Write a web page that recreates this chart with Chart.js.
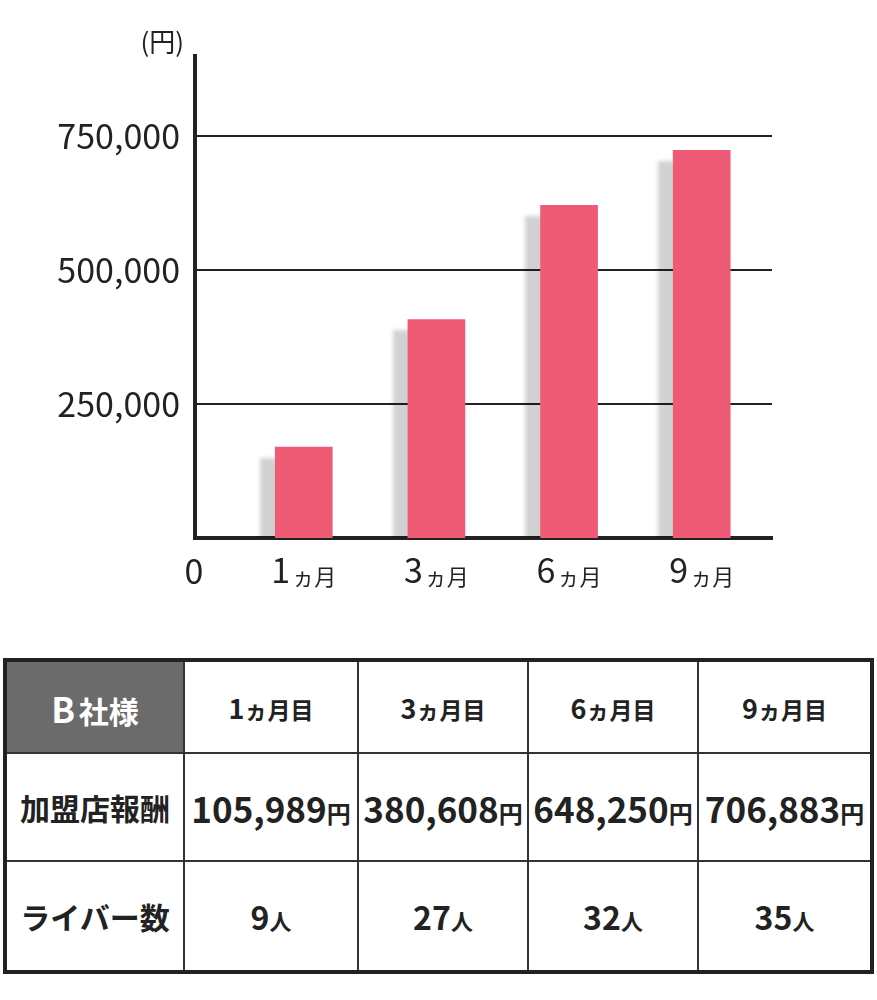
<!DOCTYPE html>
<html lang="ja">
<head>
<meta charset="utf-8">
<script src="https://cdn.jsdelivr.net/npm/chart.js@4.4.1/dist/chart.umd.min.js"></script>
<style>
  body { margin: 0; background: #fff; font-family: 'Noto Sans CJK JP', sans-serif; color: #222; }
  #wrap { position: relative; width: 877px; height: 1000px; }
  #chartBox { position: absolute; left: 0; top: 0; width: 877px; height: 620px; }
  table { position: absolute; left: 3px; top: 658px; width: 870px; border-collapse: collapse; table-layout: fixed; border: 4px solid #222; }
  td { border: 2px solid #333; text-align: center; vertical-align: middle; font-weight: bold; padding: 0; white-space: nowrap; color: #222; }
  td.corner { background: #6b6b6b; color: #fff; }
  .b30 { font-size: 35px; }
  .b28 { font-size: 30px; }
  .n27 { font-size: 27px; }
  .n35 { font-size: 35px; }
  .n32 { font-size: 32px; }
  .s23 { font-size: 23px; }
  .s22 { font-size: 22px; }
  .s24 { font-size: 24px; }
  .head { font-size: 30px; }
</style>
</head>
<body>
<div id="wrap">
  <div id="chartBox"><canvas id="chart"></canvas></div>
  <table id="tbl">
    <colgroup>
      <col style="width:179px"><col style="width:174px"><col style="width:170px"><col style="width:170px"><col style="width:174px">
    </colgroup>
    <tbody></tbody>
  </table>
</div>
<script>
// chart data
const monthNums = ['1', '3', '6', '9'];
const monthSuffix = 'ヵ月';
const barValues = [170000, 408000, 621000, 724000];
const yTicks = [250000, 500000, 750000];
const unitLabel = '(円)';

// table data
const companyName = ['B', '社様'];
const rowNames = ['加盟店報酬', 'ライバー数'];
const rewards = [105989, 380608, 648250, 706883];
const livers = [9, 27, 32, 35];

const fmt = v => v.toLocaleString('en-US');
const FONT = '"Noto Sans CJK JP", sans-serif';

const shadowPlugin = {
    id: 'barShadow',
    beforeDatasetDraw(chart) {
        const ctx = chart.ctx;
        ctx.save();
        ctx.shadowColor = 'rgba(0,0,0,0.18)';
        ctx.shadowBlur = 4;
        ctx.shadowOffsetX = -15;
        ctx.shadowOffsetY = 11;
    },
    afterDatasetDraw(chart) {
        chart.ctx.restore();
    }
};

const textPlugin = {
    id: 'axisText',
    afterDraw(chart) {
        const { ctx, chartArea, scales } = chart;
        ctx.save();
        ctx.fillStyle = '#222';
        ctx.textBaseline = 'alphabetic';
        ctx.textAlign = 'left';
        monthNums.forEach((n, i) => {
            const px = scales.x.getPixelForValue(i + 1);
            ctx.font = '34px ' + FONT;
            const w1 = ctx.measureText(n).width;
            ctx.font = '22px ' + FONT;
            const w2 = ctx.measureText(monthSuffix).width;
            const x0 = px - (w1 + w2 + 2) / 2;
            ctx.font = '34px ' + FONT;
            ctx.fillText(n, x0, chartArea.bottom + 45);
            ctx.font = '22px ' + FONT;
            ctx.fillText(monthSuffix, x0 + w1 + 2, chartArea.bottom + 47);
        });
        // zero label sits under the corner
        ctx.font = '34px ' + FONT;
        ctx.textAlign = 'center';
        ctx.fillText('0', chartArea.left - 1, chartArea.bottom + 46);
        // unit
        ctx.font = '26px ' + FONT;
        ctx.textAlign = 'right';
        ctx.textBaseline = 'middle';
        ctx.fillText(unitLabel, chartArea.left - 11, 42);
        ctx.restore();
    }
};

new Chart(document.getElementById('chart'), {
    type: 'bar',
    data: {
        datasets: [{
            data: barValues.map((v, i) => ({ x: i + 1, y: v })),
            backgroundColor: '#ef5b75',
            barThickness: 57,
            clip: 0
        }]
    },
    options: {
        responsive: true,
        maintainAspectRatio: false,
        animation: false,
        layout: { padding: { top: 56, right: 105, left: 0, bottom: 0 } },
        plugins: { legend: { display: false }, tooltip: { enabled: false } },
        scales: {
            x: {
                type: 'linear',
                min: 0.18,
                max: 4.53,
                offset: false,
                z: 1,
                grid: { display: false },
                border: { display: true, color: '#222', width: 4 },
                ticks: { display: false },
                afterFit: s => { s.height = 82; }
            },
            y: {
                min: 0,
                max: 900000,
                grid: { color: '#222', lineWidth: 2, drawTicks: false },
                border: { display: true, color: '#222', width: 4 },
                afterBuildTicks: s => { s.ticks = yTicks.map(v => ({ value: v })); },
                afterFit: s => { s.width = 195; },
                ticks: {
                    padding: 15,
                    color: '#222',
                    font: { family: FONT, size: 34 },
                    callback: v => fmt(v)
                }
            }
        }
    },
    plugins: [shadowPlugin, textPlugin]
});

// build table
const tbody = document.querySelector('#tbl tbody');
const headRow = document.createElement('tr');
headRow.style.height = '93px';
headRow.innerHTML = `<td class="corner"><span class="b30">${companyName[0]}</span> <span class="b28">${companyName[1]}</span></td>` +
    monthNums.map(n => `<td><span class="n27">${n}</span><span class="s23">${monthSuffix}目</span></td>`).join('');
tbody.appendChild(headRow);

const rewardRow = document.createElement('tr');
rewardRow.style.height = '108px';
rewardRow.innerHTML = `<td class="head">${rowNames[0]}</td>` +
    rewards.map(v => `<td><span class="n35">${fmt(v)}</span><span class="s24">円</span></td>`).join('');
tbody.appendChild(rewardRow);

const liverRow = document.createElement('tr');
liverRow.style.height = '111px';
liverRow.innerHTML = `<td class="head">${rowNames[1]}</td>` +
    livers.map(v => `<td><span class="n32">${v}</span><span class="s22">人</span></td>`).join('');
tbody.appendChild(liverRow);
</script>
</body>
</html>
